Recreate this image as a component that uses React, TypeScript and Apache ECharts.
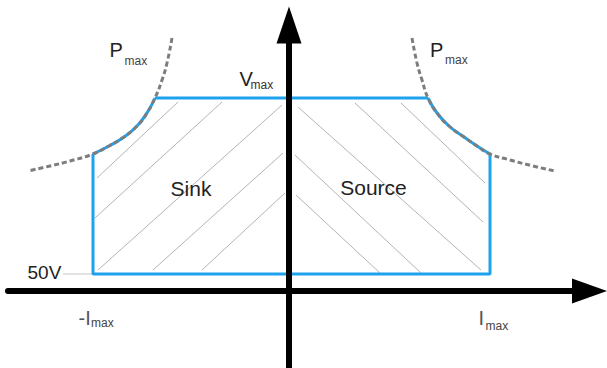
import React, { useEffect, useRef } from "react";
import * as echarts from "echarts";

// Coordinates: x = current (origin at the vertical axis), y = voltage (origin at the horizontal axis)
const leftPmaxCurve: [number, number][] = [
  [-117, 253], [-122, 228], [-127, 211], [-134, 193], [-142, 178], [-152, 165],
  [-165, 154], [-180, 145], [-196, 137], [-219, 130], [-239, 125], [-261, 120],
];
const rightPmaxCurve: [number, number][] = [
  [123, 253], [128, 228], [133, 211], [139, 193], [148, 178], [160, 165],
  [175, 154], [188, 145], [201, 137], [221, 131], [244, 125], [266, 120],
];
const cornerTop = 3;
const cornerSide = 8;
const v50 = 17;
const label50Start = -226;

const sinkHatch: [number, number][][] = [
  [[-192, 113], [-111, 189]],
  [[-194, 73], [-67, 189]],
  [[-191, 21], [-7, 186]],
  [[-136, 21], [-6, 138]],
  [[-87, 21], [-4, 98]],
];
const sourceHatch: [number, number][][] = [
  [[9, 184], [192, 21]],
  [[66, 188], [194, 69]],
  [[112, 188], [196, 108]],
  [[6, 136], [132, 18]],
  [[7, 96], [91, 18]],
];

const FONT = '"Liberation Sans", Arial, Helvetica, sans-serif';
const BLUE = "#1ea2ee";

export default function App() {
  const ref = useRef<HTMLDivElement>(null);
  useEffect(() => {
    if (!ref.current) return;
    const chart = echarts.init(ref.current, null, { renderer: "svg" });

    const iNeg = leftPmaxCurve[cornerSide][0];
    const iPos = rightPmaxCurve[cornerSide][0];

    const lineSeries = (data: any[], color: string, width: number, extra: any = {}) => ({
      type: "line",
      data,
      symbol: "none",
      silent: true,
      lineStyle: { color, width, ...(extra.lineStyle || {}) },
      z: extra.z ?? 2,
      smooth: extra.smooth ?? false,
    });

    const series: any[] = [];
    [...sinkHatch, ...sourceHatch].forEach((seg) => series.push(lineSeries(seg, "#b4b4b4", 1, { z: 1 })));
    // grey leader line for 50V
    series.push(lineSeries([[label50Start, v50], [iNeg, v50]], "#c4c4c4", 1, { z: 1 }));
    // blue boundary
    series.push(lineSeries([leftPmaxCurve[cornerTop], rightPmaxCurve[cornerTop]], BLUE, 3, { z: 3 }));
    series.push(
      lineSeries([rightPmaxCurve[cornerSide], [iPos, v50], [iNeg, v50], leftPmaxCurve[cornerSide]], BLUE, 3, { z: 3 })
    );
    series.push(lineSeries(leftPmaxCurve.slice(cornerTop, cornerSide + 1), BLUE, 3, { z: 3, smooth: 0.5 }));
    series.push(lineSeries(rightPmaxCurve.slice(cornerTop, cornerSide + 1), BLUE, 3, { z: 3, smooth: 0.5 }));
    // dashed Pmax hyperbolas
    series.push(lineSeries(leftPmaxCurve, "#7d7d7d", 3, { z: 4, smooth: 0.5, lineStyle: { type: [5, 3] } }));
    series.push(lineSeries(rightPmaxCurve, "#7d7d7d", 3, { z: 4, smooth: 0.5, lineStyle: { type: [5, 3] } }));

    const txt = (text: string, x: number, y: number, size: number, fill: string, align = "left") => ({
      type: "text",
      x,
      y,
      silent: true,
      z: 100,
      style: { text, fontSize: size, fontFamily: FONT, fill, align, verticalAlign: "middle" },
    });

    chart.setOption({
      animation: false,
      backgroundColor: "#ffffff",
      grid: { left: 8, right: 17.5, top: 25, bottom: 0, containLabel: false },
      xAxis: {
        type: "value",
        min: -281,
        max: 300.5,
        z: 5,
        axisLine: {
          show: true,
          onZero: true,
          symbol: ["none", "triangle"],
          symbolSize: [25, 35],
          lineStyle: { color: "#000", width: 6 },
        },
        axisTick: { show: false },
        axisLabel: { show: false },
        splitLine: { show: false },
      },
      yAxis: {
        type: "value",
        min: -77,
        max: 266,
        z: 5,
        axisLine: {
          show: true,
          onZero: true,
          symbol: ["none", "triangle"],
          symbolSize: [25, 37],
          lineStyle: { color: "#000", width: 6 },
        },
        axisTick: { show: false },
        axisLabel: { show: false },
        splitLine: { show: false },
      },
      series,
      graphic: [
        txt("P", 109.5, 50, 20, "#222"),
        txt("max", 124.5, 61, 12, "#444"),
        txt("P", 430, 49.5, 20, "#222"),
        txt("max", 445, 59.5, 12, "#444"),
        txt("V", 239.5, 79, 20, "#222"),
        txt("max", 250.5, 84.5, 12, "#333"),
        txt("Sink", 191, 188, 21, "#222", "center"),
        txt("Source", 373.5, 187.5, 21, "#222", "center"),
        txt("50V", 27.5, 272, 19, "#222"),
        txt("-I", 78.5, 317.5, 20, "#555"),
        txt("max", 91, 323, 12, "#444"),
        txt("I", 478.5, 318, 20, "#555"),
        txt("max", 485.5, 326, 12, "#444"),
      ],
    });
    return () => chart.dispose();
  }, []);

  return (
    <div
      ref={ref}
      style={{ position: "fixed", left: 0, top: 0, width: 607, height: 368, background: "#fff" }}
    />
  );
}
